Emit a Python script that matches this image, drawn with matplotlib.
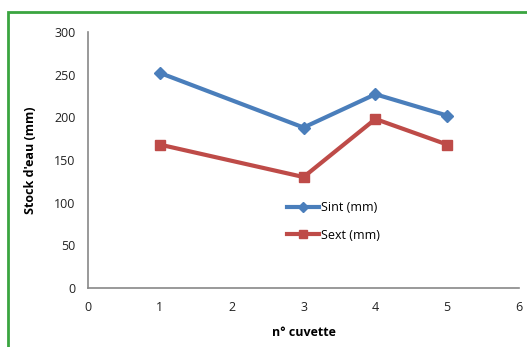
import matplotlib
matplotlib.use('Agg')
import matplotlib.pyplot as plt
from matplotlib.patches import Rectangle

cuvette = [1, 3, 4, 5]
sint = [252, 188, 227, 202]
sext = [168, 130, 198, 168]

plt.rcParams['font.family'] = ['Open Sans', 'DejaVu Sans']

fig = plt.figure(figsize=(5.27, 3.47), dpi=100)
ax = fig.add_axes([0.167, 0.17, 0.818, 0.738])

ax.plot(cuvette, sint, color='#4a7ebb', lw=3, marker='D', ms=6, label='Sint (mm)')
ax.plot(cuvette, sext, color='#be4b48', lw=3, marker='s', ms=7, label='Sext (mm)')

ax.set_xlim(0, 6)
ax.set_ylim(0, 300)
ax.set_xticks(range(7))
ax.set_yticks(range(0, 301, 50))
ax.tick_params(length=0, labelsize=9, pad=9, colors='#222222')
for s in ['top', 'right']:
    ax.spines[s].set_visible(False)
for s in ['left', 'bottom']:
    ax.spines[s].set_color('#888888')
    ax.spines[s].set_linewidth(1.2)

ax.set_xlabel('n° cuvette', fontsize=9, fontweight='bold', labelpad=9)
ax.set_ylabel("Stock d'eau (mm)", fontsize=9, fontweight='bold', labelpad=12)

ax.legend(loc='center', bbox_to_anchor=(0.57, 0.26), frameon=False, fontsize=9,
          handlelength=2.5, handletextpad=0.2, labelspacing=1.15, markerscale=0.8)

fig.patches.append(Rectangle((8/527, -0.05), 1.0, 1 - 12/347 + 0.05, transform=fig.transFigure,
                             fill=False, edgecolor='#3aa540', lw=2))

fig.savefig('out.png', dpi=100)
